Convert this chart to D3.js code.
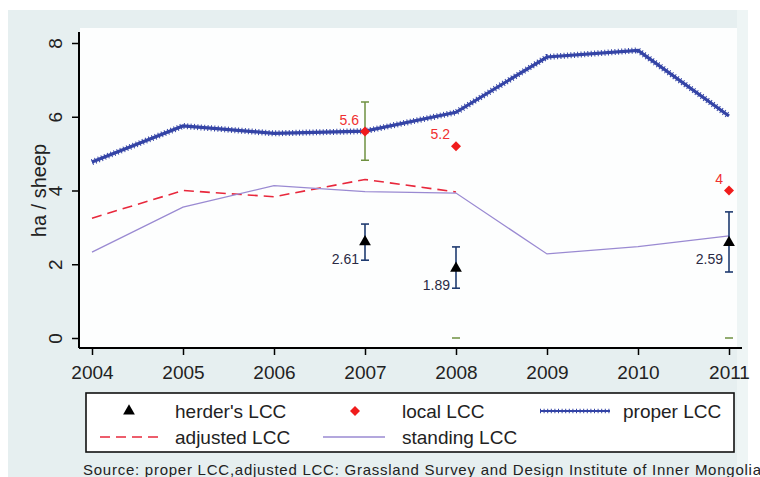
<!DOCTYPE html>
<html>
<head>
<meta charset="utf-8">
<script src="https://cdn.jsdelivr.net/npm/d3@7"></script>
<style>
  body { margin: 0; background: #fff; }
  svg { display: block; font-family: "Liberation Sans", Arial, sans-serif; }
</style>
</head>
<body>
<svg width="760" height="477"></svg>
<script>
  // data
  const years = [2004, 2005, 2006, 2007, 2008, 2009, 2010, 2011];
  const proper = [4.77, 5.75, 5.55, 5.61, 6.12, 7.62, 7.8, 6.02];
  const standing = [2.33, 3.55, 4.13, 3.97, 3.93, 2.28, 2.48, 2.77];
  const adjustedYears = [2004, 2005, 2006, 2007, 2008];
  const adjusted = [3.25, 4.0, 3.83, 4.3, 3.96];

  const herderYears = [2007, 2008, 2011];
  const herder = [2.61, 1.89, 2.59];
  const herderLo = [2.11, 1.35, 1.79];
  const herderHi = [3.09, 2.47, 3.42];

  const localYears = [2007, 2008, 2011];
  const local = [5.6, 5.2, 4];
  const localLo = [4.82, 0, 0];
  const localHi = [6.4, 0, 0];

  const yTicks = [0, 2, 4, 6, 8];

  const svg = d3.select("svg");

  // background panels
  svg.append("rect").attr("x", 8).attr("y", 10).attr("width", 740).attr("height", 467).attr("fill", "#e6eff0");
  svg.append("rect").attr("x", 737).attr("y", 10).attr("width", 11).attr("height", 467).attr("fill", "#eef5f5");
  svg.append("rect").attr("x", 80).attr("y", 28).attr("width", 657).attr("height", 320).attr("fill", "#fdfefe");

  const x = d3.scaleLinear().domain([2004, 2011]).range([92, 729]);
  const y = d3.scaleLinear().domain([0, 8]).range([338, 43]);

  // axes
  const xAxis = svg.append("g")
      .attr("transform", "translate(0,348)")
      .call(d3.axisBottom(x).tickValues(years).tickFormat(d3.format("d")).tickSize(7).tickSizeOuter(0));
  xAxis.select(".domain").attr("d", "M79,0H742").attr("stroke-width", 2);
  xAxis.selectAll(".tick line").attr("stroke-width", 1.5);
  xAxis.selectAll(".tick text").attr("font-size", 19).attr("font-family", null).attr("dy", "1.1em").attr("fill", "#222");

  const yAxis = svg.append("g")
      .attr("transform", "translate(79,0)")
      .call(d3.axisLeft(y).tickValues(yTicks).tickSize(7).tickSizeOuter(0));
  yAxis.select(".domain").attr("d", "M0,32V348").attr("stroke-width", 2);
  yAxis.selectAll(".tick line").attr("stroke-width", 1.5);
  yAxis.selectAll(".tick text")
      .attr("font-size", 19).attr("font-family", null).attr("fill", "#222")
      .attr("x", null)
      .attr("text-anchor", "middle")
      .attr("transform", "translate(-24,0) rotate(-90)")
      .attr("dy", "0.35em");

  svg.append("text")
      .attr("transform", `translate(46,${y(4)}) rotate(-90)`)
      .attr("text-anchor", "middle")
      .attr("font-size", 20).attr("fill", "#222")
      .text("ha / sheep");

  const line = d3.line();

  // adjusted LCC
  svg.append("path")
      .attr("d", line(adjustedYears.map((d, i) => [x(d), y(adjusted[i])])))
      .attr("fill", "none").attr("stroke", "#e8283c").attr("stroke-width", 1.6)
      .attr("stroke-dasharray", "10,6");

  // standing LCC
  svg.append("path")
      .attr("d", line(years.map((d, i) => [x(d), y(standing[i])])))
      .attr("fill", "none").attr("stroke", "#9a8ad2").attr("stroke-width", 1.3);

  // proper LCC: thick line with dense small ticks
  const properPath = line(years.map((d, i) => [x(d), y(proper[i])]));
  svg.append("path").attr("d", properPath)
      .attr("fill", "none").attr("stroke", "#3444a6").attr("stroke-width", 3.2);
  svg.append("path").attr("d", properPath)
      .attr("fill", "none").attr("stroke", "#3444a6").attr("stroke-width", 6)
      .attr("stroke-dasharray", "1,2.4");

  // local LCC error bars
  const cap = 4;
  localYears.forEach((d, i) => {
    const g = svg.append("g").attr("stroke", "#6e9040").attr("stroke-width", 1.5);
    const cx = x(d);
    if (localHi[i] > localLo[i]) {
      g.append("line").attr("x1", cx).attr("x2", cx).attr("y1", y(localLo[i])).attr("y2", y(localHi[i]));
      g.append("line").attr("x1", cx - cap).attr("x2", cx + cap).attr("y1", y(localHi[i])).attr("y2", y(localHi[i]));
    }
    g.append("line").attr("x1", cx - cap).attr("x2", cx + cap).attr("y1", y(localLo[i])).attr("y2", y(localLo[i]));
  });

  // herder's LCC error bars
  herderYears.forEach((d, i) => {
    const g = svg.append("g").attr("stroke", "#1f3b70").attr("stroke-width", 1.6);
    const cx = x(d);
    g.append("line").attr("x1", cx).attr("x2", cx).attr("y1", y(herderLo[i])).attr("y2", y(herderHi[i]));
    g.append("line").attr("x1", cx - cap).attr("x2", cx + cap).attr("y1", y(herderHi[i])).attr("y2", y(herderHi[i]));
    g.append("line").attr("x1", cx - cap).attr("x2", cx + cap).attr("y1", y(herderLo[i])).attr("y2", y(herderLo[i]));
  });

  const tri = d3.symbol().type(d3.symbolTriangle).size(60);
  const dia = d3.symbol().type(d3.symbolSquare).size(50);

  svg.append("g").selectAll("path")
    .data(herderYears)
    .join("path")
      .attr("d", tri)
      .attr("transform", (d, i) => `translate(${x(d)},${y(herder[i])})`)
      .attr("fill", "#000");

  svg.append("g").selectAll("text")
    .data(herderYears)
    .join("text")
      .attr("x", d => x(d) - 6)
      .attr("y", (d, i) => y(herder[i]) + 22)
      .attr("text-anchor", "end")
      .attr("font-size", 14).attr("fill", "#2a2a44")
      .text((d, i) => herder[i]);

  svg.append("g").selectAll("path")
    .data(localYears)
    .join("path")
      .attr("d", dia)
      .attr("transform", (d, i) => `translate(${x(d)},${y(local[i])}) rotate(45)`)
      .attr("fill", "#f01c1c");

  svg.append("g").selectAll("text")
    .data(localYears)
    .join("text")
      .attr("x", d => x(d) - 6)
      .attr("y", (d, i) => y(local[i]) - 7)
      .attr("text-anchor", "end")
      .attr("font-size", 14).attr("fill", "#f03030")
      .text((d, i) => local[i]);

  // legend
  const lg = svg.append("g");
  lg.append("rect").attr("x", 86).attr("y", 393).attr("width", 648).attr("height", 59)
      .attr("fill", "#fff").attr("stroke", "#111").attr("stroke-width", 1.6);

  const r1 = 411, r2 = 437;
  lg.append("path").attr("d", tri).attr("transform", `translate(129,${r1})`).attr("fill", "#000");
  lg.append("path").attr("d", dia).attr("transform", `translate(355,${r1}) rotate(45)`).attr("fill", "#f01c1c");
  lg.append("line").attr("x1", 540).attr("x2", 610).attr("y1", r1).attr("y2", r1)
      .attr("stroke", "#3444a6").attr("stroke-width", 2.2);
  lg.append("line").attr("x1", 540).attr("x2", 610).attr("y1", r1).attr("y2", r1)
      .attr("stroke", "#3444a6").attr("stroke-width", 4.5).attr("stroke-dasharray", "1,2.6");
  lg.append("line").attr("x1", 100).attr("x2", 163).attr("y1", r2).attr("y2", r2)
      .attr("stroke", "#e8283c").attr("stroke-width", 1.6).attr("stroke-dasharray", "10,6");
  lg.append("line").attr("x1", 323).attr("x2", 385).attr("y1", r2).attr("y2", r2)
      .attr("stroke", "#9a8ad2").attr("stroke-width", 1.3);

  const legendText = [
    ["herder's LCC", 175, r1], ["local LCC", 402, r1], ["proper LCC", 623, r1],
    ["adjusted LCC", 175, r2], ["standing LCC", 402, r2]
  ];
  lg.selectAll("text")
    .data(legendText)
    .join("text")
      .attr("x", d => d[1]).attr("y", d => d[2])
      .attr("dy", "0.36em")
      .attr("font-size", 19).attr("fill", "#222")
      .text(d => d[0]);

  svg.append("text")
      .attr("x", 83).attr("y", 475)
      .attr("font-size", 15).attr("fill", "#222")
      .attr("textLength", 678).attr("lengthAdjust", "spacing")
      .text("Source: proper LCC,adjusted LCC: Grassland Survey and Design Institute of Inner Mongolia");
</script>
</body>
</html>
